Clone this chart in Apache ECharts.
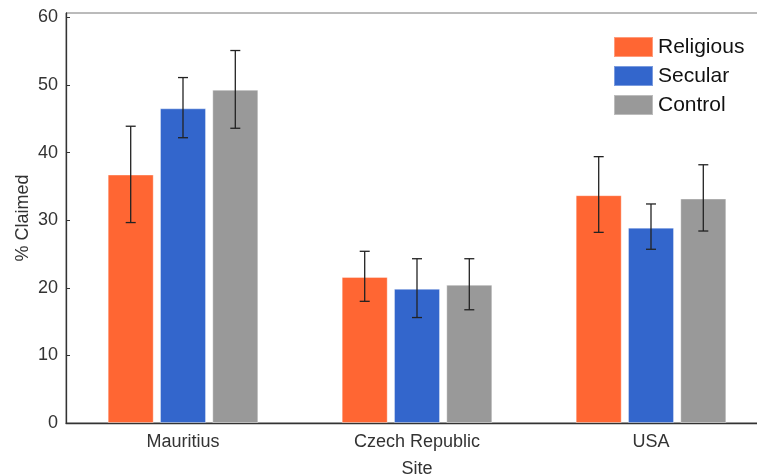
<!DOCTYPE html>
<html>
<head>
<meta charset="utf-8">
<script src="https://cdn.jsdelivr.net/npm/echarts@6/dist/echarts.min.js"></script>
<style>html,body{margin:0;padding:0;background:#fff}#c{width:757px;height:475px}</style>
</head>
<body>
<div id="c"></div>
<script>
const categories = ['Mauritius', 'Czech Republic', 'USA'];
const seriesNames = ['Religious', 'Secular', 'Control'];
const religious = [36.75, 21.6, 33.7];
const secular = [46.55, 19.85, 28.9];
const control = [49.3, 20.45, 33.2];
const religiousLow = [29.65, 18.0, 28.2];
const religiousHigh = [43.9, 25.4, 39.4];
const secularLow = [42.2, 15.6, 25.7];
const secularHigh = [51.1, 24.3, 32.4];
const controlLow = [43.6, 16.75, 28.4];
const controlHigh = [55.1, 24.3, 38.2];
const yTicks = [0, 10, 20, 30, 40, 50, 60];

const colors = ['#FF6633', '#3366CC', '#999999'];
const values = [religious, secular, control];
const lows = [religiousLow, secularLow, controlLow];
const highs = [religiousHigh, secularHigh, controlHigh];
const BAR_W = 46, BAR_GAP = 6.3;
const pitch = BAR_W + BAR_GAP;

const chart = echarts.init(document.getElementById('c'), null, {renderer: 'canvas'});
const font = 'Liberation Sans, Arial, Helvetica, sans-serif';

const series = [];
seriesNames.forEach((n, i) => {
  series.push({
    name: n, type: 'bar', data: values[i], barWidth: BAR_W,
    barGap: (BAR_GAP / BAR_W * 100) + '%',
    itemStyle: {color: colors[i], borderColor: 'rgba(255,255,255,0.35)', borderWidth: 1},
    emphasis: {disabled: true}, z: 2
  });
});
seriesNames.forEach((n, i) => {
  series.push({
    type: 'custom', name: n + ' error',
    data: categories.map((c, j) => [j, lows[i][j], highs[i][j]]),
    encode: {x: 0, y: [1, 2]},
    z: 5, silent: true,
    renderItem: function (params, api) {
      const x = api.value(0);
      const lo = api.coord([x, api.value(1)]);
      const hi = api.coord([x, api.value(2)]);
      const cx = lo[0] + (i - 1) * pitch;
      const hw = 5;
      const st = {stroke: '#222', lineWidth: 1.3};
      return {type: 'group', children: [
        {type: 'line', shape: {x1: cx, y1: lo[1], x2: cx, y2: hi[1]}, style: st},
        {type: 'line', shape: {x1: cx - hw, y1: lo[1], x2: cx + hw, y2: lo[1]}, style: st},
        {type: 'line', shape: {x1: cx - hw, y1: hi[1], x2: cx + hw, y2: hi[1]}, style: st}
      ]};
    }
  });
});

chart.setOption({
  animation: false,
  textStyle: {fontFamily: font},
  grid: {left: 66, width: 702, top: 13, bottom: 52, show: true, borderColor: '#777', borderWidth: 1,
    containLabel: false, outerBoundsMode: 'none'},
  legend: {
    data: seriesNames, orient: 'vertical', left: 608, top: 31,
    itemWidth: 39, itemHeight: 20, itemGap: 7, icon: 'rect',
    textStyle: {fontSize: 21, color: '#111', fontFamily: font},
    selectedMode: false
  },
  xAxis: {
    type: 'category', data: categories,
    name: 'Site', nameLocation: 'middle', nameGap: 37,
    nameTextStyle: {fontSize: 18, color: '#333', fontFamily: font},
    axisLine: {lineStyle: {color: '#333', width: 1.3}},
    axisTick: {show: false},
    axisLabel: {fontSize: 18, color: '#333', margin: 10, fontFamily: font}
  },
  yAxis: {
    type: 'value', min: 0, max: 60.65, interval: 10,
    name: '% Claimed', nameLocation: 'middle', nameGap: 34, nameMoveOverlap: false,
    nameTextStyle: {fontSize: 18, color: '#333', fontFamily: font},
    axisLine: {show: true, lineStyle: {color: '#333', width: 1.3}},
    axisTick: {show: true, inside: true, length: 4, lineStyle: {color: '#333'}},
    splitLine: {show: false},
    axisLabel: {fontSize: 18, color: '#333', margin: 8, fontFamily: font, showMaxLabel: false,
      formatter: v => (yTicks.indexOf(v) >= 0 ? String(v) : '')}
  },
  series: series
});
</script>
</body>
</html>
